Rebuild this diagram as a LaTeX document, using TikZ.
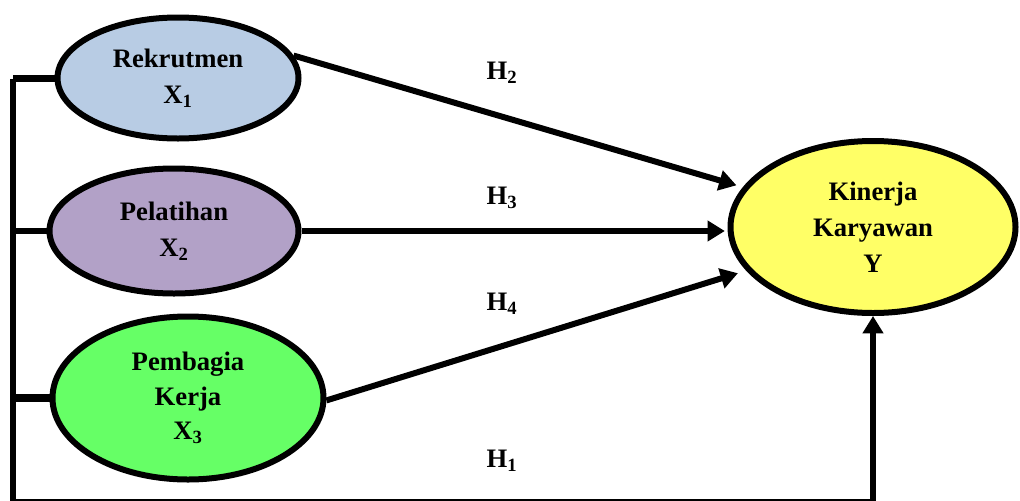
\documentclass[tikz,border=0pt]{standalone}
\usepackage{fontspec}
\setmainfont{Liberation Serif}
\usetikzlibrary{arrows.meta,shapes.geometric}
\definecolor{cRek}{HTML}{B8CCE4}
\definecolor{cPel}{HTML}{B2A1C7}
\definecolor{cPem}{HTML}{66FF66}
\definecolor{cKin}{HTML}{FFFF66}
\tikzset{
  var/.style={ellipse, draw=black, line width=4.5pt, inner sep=0pt, align=center,
    font=\fontsize{20}{27}\selectfont\bfseries},
  conn/.style={line width=4.5pt, -{Triangle[length=13pt,width=15pt]}},
  bus/.style={line width=4pt},
  hlab/.style={font=\fontsize{20}{24}\selectfont\bfseries, inner sep=0pt}
}
\begin{document}
\begin{tikzpicture}[x=0.75pt,y=-0.75pt]
\useasboundingbox (0,0) rectangle (1020,500);
\node[var, fill=cRek, minimum width={241*0.75pt}, minimum height={121*0.75pt}] (rek) at (178,78) {Rekrutmen\\X\textsubscript{1}};
\node[var, fill=cPel, minimum width={249*0.75pt}, minimum height={125*0.75pt}] (pel) at (174,231) {Pelatihan\\X\textsubscript{2}};
\node[var, fill=cPem, minimum width={271*0.75pt}, minimum height={163*0.75pt}, font=\fontsize{20}{26}\selectfont\bfseries] (pem) at (188,398) {Pembagia\\Kerja\\X\textsubscript{3}};
\node[var, fill=cKin, minimum width={285*0.75pt}, minimum height={172*0.75pt}] (kin) at (873,227) {Kinerja\\Karyawan\\Y};
\coordinate (bt) at (13,79);
\coordinate (bb) at (13,502);
% left bus and H1
\draw[bus, line width=5.25pt] (rek.west) -- (rek.west -| bt);
\draw[bus] (bt) -- (bb);
\draw[conn] (bb) -| (kin.south);
\draw[bus] (pel.west) -- (pel.west -| bt);
\draw[bus, line width=6pt] (pem.west) -- (pem.west -| bt);
% arrows
\draw[conn, shorten >=5pt] (rek.11) -- (kin.163);
\draw[conn, shorten >=2pt] (pel.east) -- (kin.west |- pel.east);
\draw[conn, shorten >=6.5pt] (pem.-1) -- (kin.199);
% labels
\node[hlab] (h2) at (502,73) {H\textsubscript{2}};
\node[hlab] (h3) at (502,198) {H\textsubscript{3}};
\node[hlab] (h4) at (502,304) {H\textsubscript{4}};
\node[hlab] (h1) at (502,461) {H\textsubscript{1}};
\end{tikzpicture}
\end{document}
